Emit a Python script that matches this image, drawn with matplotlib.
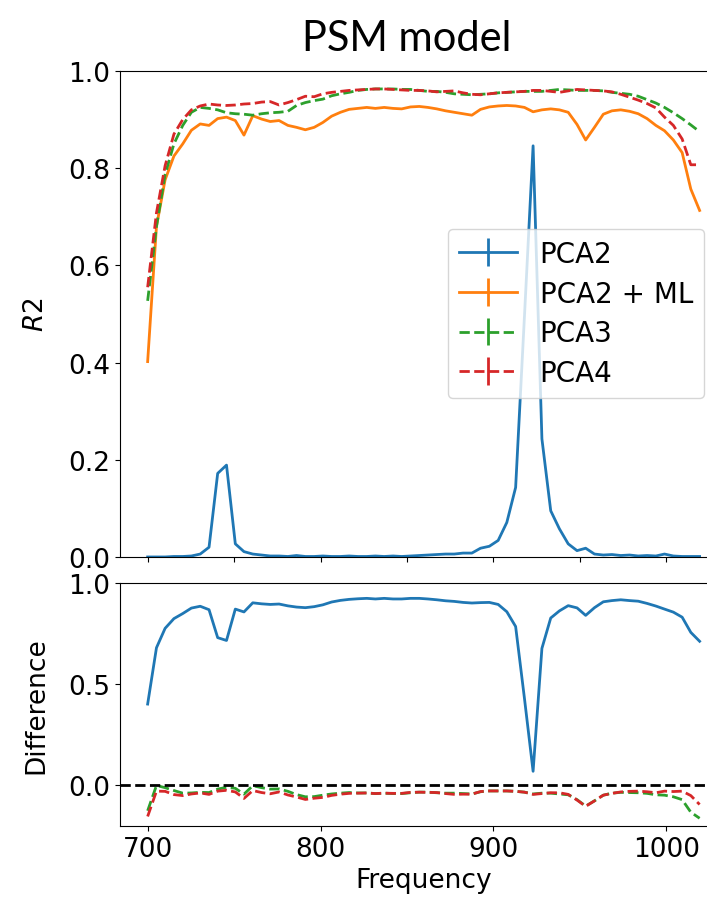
import numpy as np
import matplotlib
matplotlib.use("Agg")
import matplotlib.pyplot as plt

# Frequency grid (64 samples, ~5.07 apart)
freq = [700.0, 705.1, 710.1, 715.2, 720.3, 725.3, 730.4, 735.5, 740.5, 745.6,
        750.7, 755.7, 760.8, 765.9, 770.9, 776.0, 781.1, 786.1, 791.2, 796.3,
        801.3, 806.4, 811.5, 816.5, 821.6, 826.7, 831.7, 836.8, 841.9, 846.9,
        852.0, 857.1, 862.1, 867.2, 872.3, 877.3, 882.4, 887.5, 892.5, 897.6,
        902.7, 907.7, 912.8, 917.9, 922.9, 928.0, 933.1, 938.1, 943.2, 948.3,
        953.3, 958.4, 963.5, 968.5, 973.6, 978.7, 983.7, 988.8, 993.9, 998.9,
        1004.0, 1009.1, 1014.1, 1019.2]

# R2 values
pca2 = [0.000, 0.000, 0.000, 0.001, 0.001, 0.002, 0.006, 0.020, 0.172, 0.189,
        0.027, 0.011, 0.006, 0.004, 0.002, 0.002, 0.001, 0.003, 0.001, 0.001,
        0.002, 0.001, 0.001, 0.002, 0.001, 0.001, 0.002, 0.001, 0.002, 0.001,
        0.002, 0.003, 0.004, 0.005, 0.006, 0.006, 0.008, 0.008, 0.018, 0.022,
        0.034, 0.071, 0.143, 0.495, 0.846, 0.243, 0.095, 0.058, 0.027, 0.013,
        0.018, 0.006, 0.004, 0.005, 0.003, 0.004, 0.002, 0.003, 0.002, 0.006,
        0.002, 0.001, 0.001, 0.001]

pca2_ml = [0.402, 0.680, 0.776, 0.825, 0.850, 0.878, 0.891, 0.888, 0.902, 0.905,
           0.898, 0.868, 0.908, 0.901, 0.896, 0.898, 0.888, 0.884, 0.879, 0.884,
           0.894, 0.907, 0.915, 0.921, 0.923, 0.925, 0.923, 0.925, 0.923, 0.922,
           0.926, 0.927, 0.925, 0.922, 0.918, 0.915, 0.912, 0.909, 0.921, 0.926,
           0.928, 0.929, 0.928, 0.925, 0.916, 0.920, 0.922, 0.920, 0.915, 0.890,
           0.858, 0.884, 0.911, 0.918, 0.920, 0.917, 0.912, 0.902, 0.888, 0.877,
           0.858, 0.832, 0.757, 0.713]

pca3 = [0.527, 0.680, 0.787, 0.850, 0.888, 0.915, 0.925, 0.923, 0.920, 0.914,
        0.912, 0.911, 0.909, 0.912, 0.914, 0.915, 0.917, 0.929, 0.935, 0.939,
        0.942, 0.949, 0.953, 0.956, 0.960, 0.962, 0.963, 0.963, 0.963, 0.962,
        0.962, 0.960, 0.958, 0.958, 0.956, 0.953, 0.952, 0.951, 0.952, 0.953,
        0.955, 0.956, 0.957, 0.958, 0.958, 0.958, 0.960, 0.962, 0.961, 0.960,
        0.960, 0.960, 0.959, 0.956, 0.954, 0.952, 0.948, 0.941, 0.934, 0.925,
        0.914, 0.902, 0.889, 0.875]

pca4 = [0.555, 0.708, 0.805, 0.870, 0.900, 0.920, 0.928, 0.932, 0.930, 0.929,
        0.930, 0.932, 0.933, 0.936, 0.937, 0.930, 0.935, 0.941, 0.948, 0.947,
        0.953, 0.956, 0.958, 0.960, 0.961, 0.962, 0.963, 0.963, 0.962, 0.961,
        0.960, 0.960, 0.959, 0.957, 0.958, 0.959, 0.955, 0.952, 0.951, 0.953,
        0.955, 0.956, 0.957, 0.958, 0.960, 0.960, 0.958, 0.956, 0.959, 0.962,
        0.961, 0.960, 0.959, 0.957, 0.952, 0.946, 0.940, 0.933, 0.924, 0.905,
        0.888, 0.860, 0.807, 0.807]

labels = ["PCA2", "PCA2 + ML", "PCA3", "PCA4"]

FS = 19

# Difference panel: PCA2 + ML minus each of the other models
ml = np.array(pca2_ml)
diff_pca2 = ml - np.array(pca2)
diff_pca3 = ml - np.array(pca3)
diff_pca4 = ml - np.array(pca4)

plt.rcParams['font.family'] = ['DejaVu Sans']
plt.rcParams['mathtext.fontset'] = 'dejavusans'
plt.rcParams['font.size'] = FS
fig = plt.figure(figsize=(7.07, 9.03), dpi=100)

# axes run past the right edge on purpose (reference is cropped there)
ax1 = fig.add_axes([0.1697, 0.3821, 0.859, 0.5382])
ax2 = fig.add_axes([0.1697, 0.0842, 0.859, 0.2691])

# top panel, errorbar style so the legend gets the "+" handles
ax1.errorbar(freq, pca2, yerr=0, color='tab:blue', lw=2, label=labels[0])
ax1.errorbar(freq, pca2_ml, yerr=0, color='tab:orange', lw=2, label=labels[1])
ax1.errorbar(freq, pca3, yerr=0, color='tab:green', lw=2, ls='--', label=labels[2])
ax1.errorbar(freq, pca4, yerr=0, color='tab:red', lw=2, ls='--', label=labels[3])
ax1.set_ylim(0, 1)
ax1.set_xlim(684, 1035.2)
ax1.set_xticks([700, 750, 800, 850, 900, 950, 1000])
ax1.tick_params(labelbottom=False, labelsize=FS)
ax1.set_yticks([0.0, 0.2, 0.4, 0.6, 0.8, 1.0])
ax1.set_ylabel('$R2$', fontsize=FS)
ax1.yaxis.set_label_coords(-0.117, 0.5)
ax1.legend(loc='center left', bbox_to_anchor=(0.540, 0.501), borderaxespad=0,
           fontsize=20, handlelength=2.1, labelspacing=0.42)

# bottom panel
ax2.plot(freq, diff_pca2, color='tab:blue', lw=2)
ax2.plot(freq, diff_pca3, color='tab:green', lw=2, ls='--')
ax2.plot(freq, diff_pca4, color='tab:red', lw=2, ls='--')
ax2.axhline(0, color='black', lw=2, ls='--')
ax2.set_ylim(-0.2, 1.0)
ax2.set_xlim(684, 1035.2)
ax2.set_xticks([700, 800, 900, 1000])
ax2.set_yticks([0.0, 0.5, 1.0])
ax2.tick_params(labelsize=FS)
ax2.set_ylabel('Difference', fontsize=FS)
ax2.yaxis.set_label_coords(-0.117, 0.5)
ax2.set_xlabel('Frequency', fontsize=FS)

fig.text(407 / 707, 1 - 51 / 903, 'PSM model', ha='center', va='baseline',
         fontsize=30, family=['Lato', 'DejaVu Sans'])

fig.savefig('out.png', dpi=100)
